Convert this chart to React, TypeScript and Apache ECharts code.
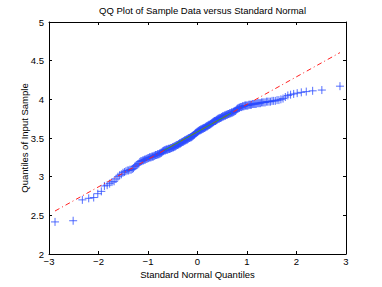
import React, { useEffect, useRef } from "react";
import * as echarts from "echarts";

// Sorted sample data, n = 250
const sampleQuantiles: number[] = [
  2.415, 2.43, 2.70, 2.72, 2.73, 2.78, 2.81, 2.88, 2.89, 2.91,
  2.93, 2.94, 2.97, 3.00, 3.02, 3.03, 3.05, 3.06, 3.07, 3.08,
  3.08, 3.09, 3.09, 3.10, 3.11, 3.13, 3.14, 3.15, 3.16, 3.17,
  3.19, 3.20, 3.20, 3.21, 3.21, 3.22, 3.22, 3.23, 3.23, 3.24,
  3.24, 3.25, 3.25, 3.25, 3.26, 3.26, 3.26, 3.27, 3.27, 3.28,
  3.28, 3.28, 3.29, 3.29, 3.29, 3.30, 3.30, 3.31, 3.31, 3.32,
  3.33, 3.33, 3.34, 3.34, 3.34, 3.35, 3.35, 3.35, 3.35, 3.36,
  3.36, 3.36, 3.36, 3.37, 3.37, 3.37, 3.38, 3.38, 3.38, 3.39,
  3.39, 3.39, 3.40, 3.40, 3.41, 3.41, 3.41, 3.42, 3.42, 3.43,
  3.43, 3.43, 3.44, 3.44, 3.45, 3.45, 3.45, 3.46, 3.46, 3.47,
  3.47, 3.47, 3.48, 3.48, 3.48, 3.49, 3.49, 3.50, 3.50, 3.50,
  3.51, 3.51, 3.51, 3.52, 3.52, 3.53, 3.53, 3.54, 3.54, 3.55,
  3.56, 3.56, 3.57, 3.57, 3.58, 3.58, 3.59, 3.59, 3.60, 3.60,
  3.60, 3.61, 3.61, 3.61, 3.62, 3.62, 3.62, 3.63, 3.63, 3.63,
  3.64, 3.64, 3.65, 3.65, 3.65, 3.66, 3.66, 3.67, 3.67, 3.67,
  3.68, 3.68, 3.69, 3.69, 3.70, 3.70, 3.71, 3.71, 3.72, 3.72,
  3.72, 3.73, 3.73, 3.74, 3.74, 3.75, 3.75, 3.75, 3.76, 3.76,
  3.76, 3.77, 3.77, 3.78, 3.78, 3.78, 3.79, 3.79, 3.79, 3.80,
  3.80, 3.80, 3.81, 3.81, 3.81, 3.82, 3.82, 3.82, 3.83, 3.83,
  3.83, 3.84, 3.84, 3.85, 3.85, 3.86, 3.87, 3.88, 3.88, 3.89,
  3.89, 3.90, 3.90, 3.90, 3.91, 3.91, 3.91, 3.92, 3.92, 3.92,
  3.92, 3.92, 3.93, 3.93, 3.93, 3.93, 3.94, 3.94, 3.94, 3.94,
  3.94, 3.95, 3.95, 3.95, 3.95, 3.96, 3.96, 3.96, 3.96, 3.97,
  3.97, 3.97, 3.97, 3.98, 3.98, 3.98, 3.99, 3.99, 4.00, 4.01,
  4.03, 4.05, 4.06, 4.07, 4.08, 4.09, 4.10, 4.11, 4.12, 4.17,
];

const xTicks: number[] = [-3, -2, -1, 0, 1, 2, 3];
const yTicks: number[] = [2, 2.5, 3, 3.5, 4, 4.5, 5];

const titleText = "QQ Plot of Sample Data versus Standard Normal";
const xLabel = "Standard Normal Quantiles";
const yLabel = "Quantiles of Input Sample";

// Inverse standard normal CDF (Acklam)
function probit(p: number): number {
  const a = [-3.969683028665376e1, 2.209460984245205e2, -2.759285104469687e2, 1.38357751867269e2, -3.066479806614716e1, 2.506628277459239];
  const b = [-5.447609879822406e1, 1.615858368580409e2, -1.556989798598866e2, 6.680131188771972e1, -1.328068155288572e1];
  const c = [-7.784894002430293e-3, -3.223964580411365e-1, -2.400758277161838, -2.549732539343734, 4.374664141464968, 2.938163982698783];
  const d = [7.784695709041462e-3, 3.224671290700398e-1, 2.445134137142996, 3.754408661907416];
  const pl = 0.02425;
  if (p < pl) {
    const q = Math.sqrt(-2 * Math.log(p));
    return (((((c[0] * q + c[1]) * q + c[2]) * q + c[3]) * q + c[4]) * q + c[5]) / ((((d[0] * q + d[1]) * q + d[2]) * q + d[3]) * q + 1);
  }
  if (p > 1 - pl) {
    const q = Math.sqrt(-2 * Math.log(1 - p));
    return -(((((c[0] * q + c[1]) * q + c[2]) * q + c[3]) * q + c[4]) * q + c[5]) / ((((d[0] * q + d[1]) * q + d[2]) * q + d[3]) * q + 1);
  }
  const q = p - 0.5;
  const r = q * q;
  return ((((((a[0] * r + a[1]) * r + a[2]) * r + a[3]) * r + a[4]) * r + a[5]) * q) / (((((b[0] * r + b[1]) * r + b[2]) * r + b[3]) * r + b[4]) * r + 1);
}

const FONT = "'Liberation Sans', Arial, Helvetica, sans-serif";

export default function App() {
  const ref = useRef<HTMLDivElement>(null);
  useEffect(() => {
    if (!ref.current) return;
    const chart = echarts.init(ref.current, undefined, { renderer: "svg" });
    const n = sampleQuantiles.length;
    const theo = sampleQuantiles.map((_, i) => probit((i + 0.5) / n));
    const points = sampleQuantiles.map((v, i) => [theo[i], v]);
    // quartiles (MATLAB prctile style)
    const q = (p: number, arr: number[]) => {
      const pos = n * p + 0.5 - 1;
      const lo = Math.floor(pos);
      const f = pos - lo;
      return arr[lo] + f * ((arr[lo + 1] ?? arr[lo]) - arr[lo]);
    };
    const x1 = q(0.25, theo), x3 = q(0.75, theo);
    const y1 = q(0.25, sampleQuantiles), y3 = q(0.75, sampleQuantiles);
    const slope = (y3 - y1) / (x3 - x1);
    const lineAt = (x: number) => y1 + slope * (x - x1);
    const xmin = theo[0], xmax = theo[n - 1];
    const fmt = (v: number) => (v < 0 ? "\u2212" + Math.abs(v) : String(v));
    const axisCommon = {
      axisLine: { show: true, onZero: false, lineStyle: { color: "#000", width: 1 } },
      axisTick: { show: true, inside: true, length: 3, lineStyle: { color: "#000" } },
      splitLine: { show: false },
    };
    chart.setOption({
      animation: false,
      title: {
        text: titleText,
        left: 197.5,
        top: 0,
        padding: 5,
        textAlign: "center",
        textStyle: { fontSize: 9.5, fontWeight: "normal", color: "#000", fontFamily: FONT },
      },
      grid: { left: 49, right: 36, top: 22, bottom: 33, containLabel: false },
      xAxis: [
        {
          type: "value", min: xTicks[0], max: xTicks[xTicks.length - 1], interval: 1, position: "bottom",
          ...axisCommon,
          axisLabel: { color: "#000", fontSize: 9.5, margin: 2, fontFamily: FONT, formatter: fmt },
          name: xLabel, nameLocation: "middle", nameGap: 15, nameMoveOverlap: false,
          nameTextStyle: { fontSize: 9.5, color: "#000", fontFamily: FONT },
        },
        {
          type: "value", min: xTicks[0], max: xTicks[xTicks.length - 1], interval: 1, position: "top",
          ...axisCommon, axisLabel: { show: false },
        },
      ],
      yAxis: [
        {
          type: "value", min: yTicks[0], max: yTicks[yTicks.length - 1], interval: 0.5, position: "left",
          ...axisCommon,
          axisLabel: { color: "#000", fontSize: 9.5, margin: 5, fontFamily: FONT },
          name: yLabel, nameLocation: "middle", nameGap: 25, nameMoveOverlap: false,
          nameTextStyle: { fontSize: 9.5, color: "#000", fontFamily: FONT, verticalAlign: "middle" },
        },
        {
          type: "value", min: yTicks[0], max: yTicks[yTicks.length - 1], interval: 0.5, position: "right",
          ...axisCommon, axisLabel: { show: false },
        },
      ],
      series: [
        {
          type: "scatter",
          data: points,
          symbol: "path://M0,5L10,5M5,0L5,10",
          symbolSize: 8,
          itemStyle: { color: "#2a4bff", borderColor: "#2a4bff", borderWidth: 1 },
          z: 2,
        },
        {
          type: "line",
          data: [[xmin, lineAt(xmin)], [xmax, lineAt(xmax)]],
          symbol: "none",
          lineStyle: { color: "#ff2020", width: 1, type: [5, 3, 1, 3] },
          z: 3,
        },
        {
          type: "line",
          data: [[x1, y1], [x3, y3]],
          symbol: "none",
          lineStyle: { color: "#3a9a3a", width: 1 },
          z: 4,
        },
      ],
    });
    return () => chart.dispose();
  }, []);
  return <div ref={ref} style={{ position: "absolute", left: 0, top: 0, width: 382, height: 287, background: "#fff" }} />;
}
